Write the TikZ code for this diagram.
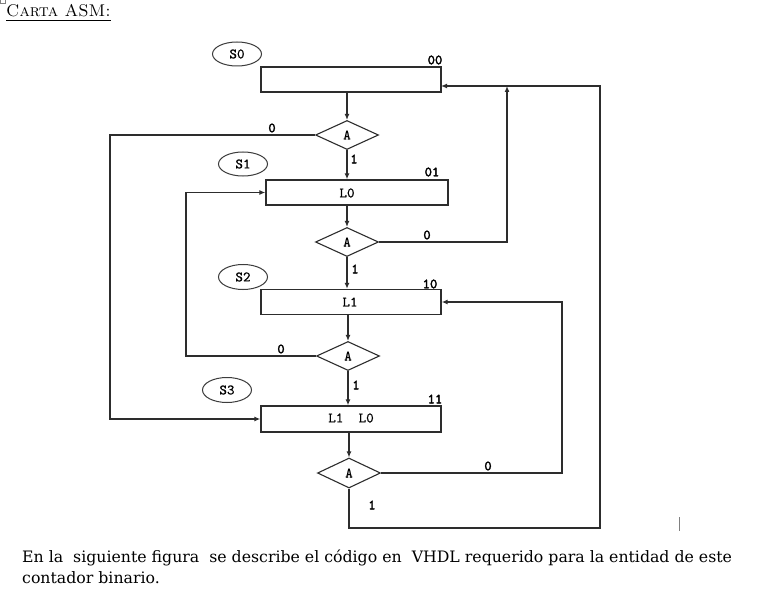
\documentclass[tikz,border=0pt]{standalone}
\usepackage{fontspec}
\newfontfamily\bodyfont{DejaVu Serif}
\newfontfamily\monoreg{lmmono10-regular.otf}[FakeBold=0.6]
\newfontfamily\monobold{lmmono10-regular.otf}[FakeBold=2.5]
\usetikzlibrary{shapes.geometric,arrows.meta}
\definecolor{lc}{RGB}{45,45,45}
\definecolor{ec}{RGB}{60,60,60}
\newcommand{\lblfont}{\monoreg\fontsize{14.5}{14.5}\selectfont}
\newcommand{\lblbold}{\monobold\fontsize{14}{14}\selectfont}
\begin{document}
\begin{tikzpicture}[x=1bp,y=-1bp,
  ln/.style={draw=lc,line width=1.4bp},
  arr/.style={ln,-{Latex[length=6bp,width=5bp]}},
  sbox/.style={draw=lc,line width=1.4bp,rectangle,inner sep=0,minimum width=180bp,minimum height=25bp},
  dec/.style={draw=lc,line width=1.1bp,diamond,inner sep=0,aspect=2.2,minimum width=63bp,minimum height=29bp,font=\lblfont},
  st/.style={draw=ec,line width=1bp,ellipse,inner sep=0,minimum width=49bp,minimum height=24bp,font=\lblfont},
  lbl/.style={inner sep=0,font=\lblbold},
  act/.style={inner sep=0,font=\lblfont},
  txt/.style={inner sep=0,anchor=base west,font=\bodyfont\fontsize{15.8}{15.8}\selectfont}
]
\fill[white] (0,0) rectangle (776,614);
\useasboundingbox (0,0) rectangle (776,614);
% tiny box artefact at top left
\draw[gray,line width=0.6bp] (0.5,-1) rectangle (5.5,3.5);
% heading
\node[inner sep=0,anchor=base west,font=\fontsize{17}{17}\selectfont] (title) at (6,17) {\textsc{Carta ASM:}};
\draw[line width=0.7bp] ([yshift=-3.5bp]title.base west) -- ([yshift=-3.5bp]title.base east);

% state boxes
\node[sbox] (b0) at (351,79.5) {};
\node[sbox,minimum width=182bp] (b1) at (357,192.5) {};
\node[act] (t1) at (347,193) {L0};
\node[sbox] (b2) at (351,302) {};
\node[act] (t2) at (350,302) {L1};
\node[sbox,minimum height=26bp] (b3) at (351,419) {};
\node[act] (t3) at (351,418) {L1\ \ L0};

% decisions
\node[dec] (d1) at (347,135) {A};
\node[dec] (d2) at (347,242) {A};
\node[dec] (d3) at (348,356) {A};
\node[dec,minimum height=30bp] (d4) at (349,473) {A};

% state names
\node[st] (s0) at (237,54) {S0};
\node[st] (s1) at (243,164) {S1};
\node[st,minimum height=25bp] (s2) at (243,277) {S2};
\node[st,minimum height=25bp] (s3) at (227,390) {S3};

% state codes
\node[lbl] (c0) at (435,60) {00};
\node[lbl] (c1) at (432,172) {01};
\node[lbl] (c2) at (430,284) {10};
\node[lbl] (c3) at (435,399) {11};

% vertical flow
\draw[arr] (d1.north |- b0.south) -- (d1.north);
\draw[arr] (d1.south) -- (d1.south |- b1.north);
\draw[arr] (d2.north |- b1.south) -- (d2.north);
\draw[arr] (d2.south) -- (d2.south |- b2.north);
\draw[arr] (d3.north |- b2.south) -- (d3.north);
\draw[arr] (d3.south) -- (d3.south |- b3.north);
\draw[arr] (d4.north |- b3.south) -- (d4.north);

% loops
\coordinate (k1) at (110,135);
\draw[arr] (d1.west) -- (k1) |- (b3.west);
\coordinate (in0) at (441,86);
\coordinate (j0) at (507,86);
\coordinate (k2) at (507,242);
\draw[arr] (d2.east) -- (k2) -- (j0);
\coordinate (k3) at (186,356);
\draw[arr] (d3.west) -- (k3) |- (b1.west);
\coordinate (k4) at (562,473);
\draw[arr] (d4.east) -- (k4) |- (b2.east);
\coordinate (k5) at (349,528);
\coordinate (k6) at (600,528);
\coordinate (k7) at (600,86);
\draw[arr] (d4.south) -- (k5) -- (k6) -- (k7) -- (in0);

% branch labels
\node[lbl] (l1) at (272,128) {0};
\node[lbl] (l2) at (354,159) {1};
\node[lbl] (l3) at (427,235) {0};
\node[lbl] (l4) at (355,269) {1};
\node[lbl] (l5) at (281,349) {0};
\node[lbl] (l6) at (356,385) {1};
\node[lbl] (l7) at (488,466) {0};
\node[lbl] (l8) at (372,505) {1};

% cursor mark
\draw[gray,line width=1bp] (679,517) -- (679,531);

% body text
\node[txt] (p1) at (22,562) {En la\ \ siguiente figura\ \ se describe el código en\ \ VHDL requerido para la entidad de este};
\node[txt] (p2) at (22,583) {contador binario.};
\end{tikzpicture}
\end{document}
